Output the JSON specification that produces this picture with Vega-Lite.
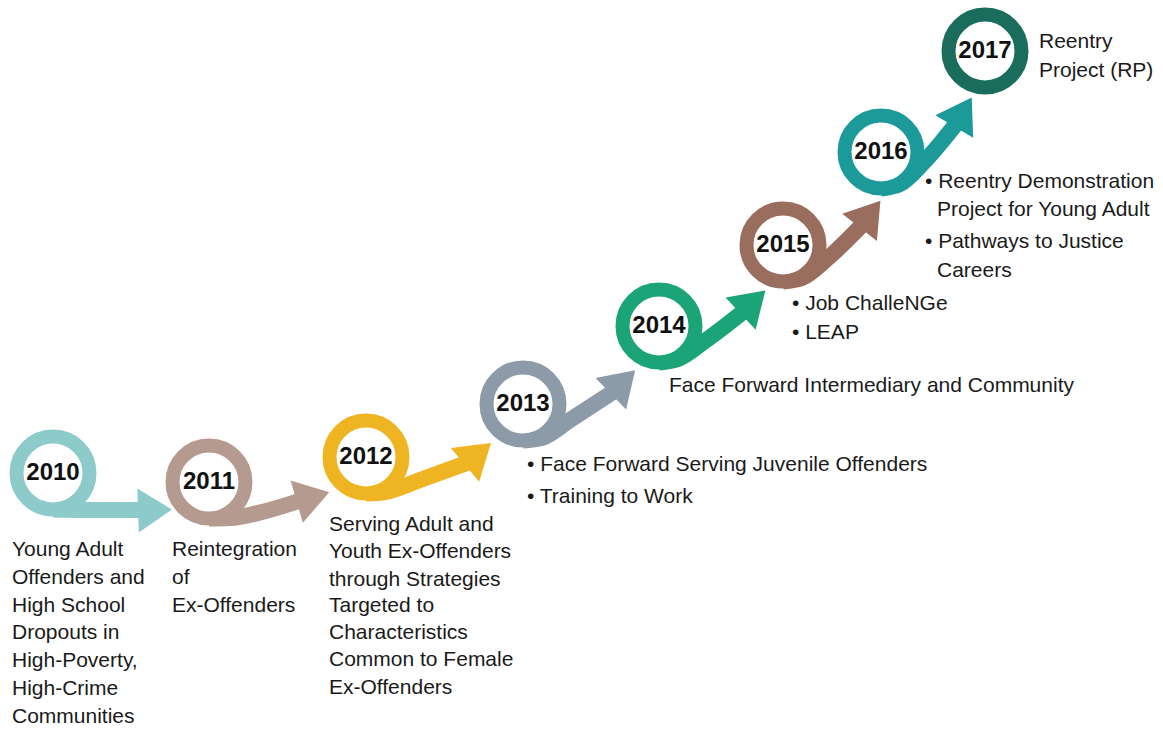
{
  "$schema": "https://vega.github.io/schema/vega-lite/v6.json",
  "width": 1163,
  "height": 731,
  "autosize": "none",
  "padding": 0,
  "background": "white",
  "config": {"view": {"stroke": null}},
  "datasets": {
    "rings": [
      {"year": "2010", "x": 53, "y": 473, "color": "#8dcaca"},
      {"year": "2011", "x": 209, "y": 482, "color": "#b59a8f"},
      {"year": "2012", "x": 366, "y": 457, "color": "#eeb422"},
      {"year": "2013", "x": 523, "y": 404, "color": "#8d9ba8"},
      {"year": "2014", "x": 659, "y": 326, "color": "#1ba477"},
      {"year": "2015", "x": 783, "y": 245, "color": "#9a6e5e"},
      {"year": "2016", "x": 881, "y": 152, "color": "#1b9a99"},
      {"year": "2017", "x": 985, "y": 51, "color": "#1a6d5c"}
    ],
    "shafts": [
      {"arrow": "A1", "o": 1, "x": 53, "y": 509.5, "color": "#8dcaca"},
      {"arrow": "A1", "o": 2, "x": 95, "y": 510, "color": "#8dcaca"},
      {"arrow": "A1", "o": 3, "x": 141, "y": 510, "color": "#8dcaca"},
      {"arrow": "A2", "o": 1, "x": 209, "y": 518.5, "color": "#b59a8f"},
      {"arrow": "A2", "o": 2, "x": 230, "y": 518, "color": "#b59a8f"},
      {"arrow": "A2", "o": 3, "x": 262, "y": 512, "color": "#b59a8f"},
      {"arrow": "A2", "o": 4, "x": 299, "y": 501, "color": "#b59a8f"},
      {"arrow": "A3", "o": 1, "x": 366, "y": 493.5, "color": "#eeb422"},
      {"arrow": "A3", "o": 2, "x": 385, "y": 492, "color": "#eeb422"},
      {"arrow": "A3", "o": 3, "x": 420, "y": 480, "color": "#eeb422"},
      {"arrow": "A3", "o": 4, "x": 467, "y": 463, "color": "#eeb422"},
      {"arrow": "A4", "o": 1, "x": 523, "y": 440.5, "color": "#8d9ba8"},
      {"arrow": "A4", "o": 2, "x": 542, "y": 438, "color": "#8d9ba8"},
      {"arrow": "A4", "o": 3, "x": 570, "y": 420, "color": "#8d9ba8"},
      {"arrow": "A4", "o": 4, "x": 613, "y": 392, "color": "#8d9ba8"},
      {"arrow": "A5", "o": 1, "x": 659, "y": 362.5, "color": "#1ba477"},
      {"arrow": "A5", "o": 2, "x": 678, "y": 359, "color": "#1ba477"},
      {"arrow": "A5", "o": 3, "x": 705, "y": 341, "color": "#1ba477"},
      {"arrow": "A5", "o": 4, "x": 743, "y": 312, "color": "#1ba477"},
      {"arrow": "A6", "o": 1, "x": 783, "y": 281.5, "color": "#9a6e5e"},
      {"arrow": "A6", "o": 2, "x": 802, "y": 278, "color": "#9a6e5e"},
      {"arrow": "A6", "o": 3, "x": 828, "y": 258, "color": "#9a6e5e"},
      {"arrow": "A6", "o": 4, "x": 862, "y": 225, "color": "#9a6e5e"},
      {"arrow": "A7", "o": 1, "x": 881, "y": 188.5, "color": "#1b9a99"},
      {"arrow": "A7", "o": 2, "x": 900, "y": 184, "color": "#1b9a99"},
      {"arrow": "A7", "o": 3, "x": 924, "y": 162, "color": "#1b9a99"},
      {"arrow": "A7", "o": 4, "x": 956, "y": 124, "color": "#1b9a99"}
    ],
    "heads": [
      {"arrow": "A1", "x": 155, "y": 510, "angle": -2, "color": "#8dcaca"},
      {"arrow": "A2", "x": 313, "y": 497, "angle": -16, "color": "#b59a8f"},
      {"arrow": "A3", "x": 478, "y": 454, "angle": -40, "color": "#eeb422"},
      {"arrow": "A4", "x": 623, "y": 382, "angle": -44, "color": "#8d9ba8"},
      {"arrow": "A5", "x": 753, "y": 302, "angle": -43, "color": "#1ba477"},
      {"arrow": "A6", "x": 870, "y": 214, "angle": -52, "color": "#9a6e5e"},
      {"arrow": "A7", "x": 963, "y": 112, "angle": -59, "color": "#1b9a99"}
    ],
    "labels": [
      {"x": 12, "y": 550, "text": "Young Adult"},
      {"x": 12, "y": 578, "text": "Offenders and"},
      {"x": 12, "y": 606, "text": "High School"},
      {"x": 12, "y": 633, "text": "Dropouts in"},
      {"x": 12, "y": 661, "text": "High-Poverty,"},
      {"x": 12, "y": 689, "text": "High-Crime"},
      {"x": 12, "y": 717, "text": "Communities"},
      {"x": 172, "y": 550, "text": "Reintegration"},
      {"x": 172, "y": 578, "text": "of"},
      {"x": 172, "y": 606, "text": "Ex-Offenders"},
      {"x": 329, "y": 525, "text": "Serving Adult and"},
      {"x": 329, "y": 552, "text": "Youth Ex-Offenders"},
      {"x": 329, "y": 580, "text": "through Strategies"},
      {"x": 329, "y": 606, "text": "Targeted to"},
      {"x": 329, "y": 633, "text": "Characteristics"},
      {"x": 329, "y": 660, "text": "Common to Female"},
      {"x": 329, "y": 688, "text": "Ex-Offenders"},
      {"x": 527, "y": 465, "text": "• Face Forward Serving Juvenile Offenders"},
      {"x": 527, "y": 497, "text": "• Training to Work"},
      {"x": 669, "y": 386, "text": "Face Forward Intermediary and Community"},
      {"x": 792, "y": 304, "text": "• Job ChalleNGe"},
      {"x": 792, "y": 333, "text": "• LEAP"},
      {"x": 925, "y": 182, "text": "• Reentry Demonstration"},
      {"x": 937, "y": 210, "text": "Project for Young Adult"},
      {"x": 925, "y": 242, "text": "• Pathways to Justice"},
      {"x": 937, "y": 271, "text": "Careers"},
      {"x": 1039, "y": 42, "text": "Reentry"},
      {"x": 1039, "y": 71, "text": "Project (RP)"}
    ]
  },
  "encoding": {
    "x": {"field": "x", "type": "quantitative", "scale": {"domain": [0, 1163], "nice": false, "zero": false}, "axis": null},
    "y": {"field": "y", "type": "quantitative", "scale": {"domain": [0, 731], "nice": false, "zero": false, "reverse": true}, "axis": null}
  },
  "layer": [
    {
      "data": {"name": "shafts"},
      "mark": {"type": "line", "strokeWidth": 16, "strokeCap": "butt", "interpolate": "monotone"},
      "encoding": {
        "detail": {"field": "arrow"},
        "order": {"field": "o", "type": "quantitative"},
        "stroke": {"field": "color", "type": "nominal", "scale": null}
      }
    },
    {
      "data": {"name": "rings"},
      "mark": {"type": "point", "shape": "circle", "filled": true, "fill": "white", "strokeWidth": 14, "size": 5329, "opacity": 1},
      "encoding": {
        "stroke": {"field": "color", "type": "nominal", "scale": null}
      }
    },
    {
      "data": {"name": "heads"},
      "mark": {"type": "point", "shape": "M-0.77,-1L0.77,0L-0.77,1Z", "filled": true, "size": 1936, "opacity": 1, "strokeWidth": 0},
      "encoding": {
        "fill": {"field": "color", "type": "nominal", "scale": null},
        "angle": {"field": "angle", "type": "quantitative", "scale": null}
      }
    },
    {
      "data": {"name": "rings"},
      "mark": {"type": "text", "font": "Liberation Sans", "fontWeight": "bold", "fontSize": 24, "align": "center", "baseline": "middle", "fill": "#111111"},
      "encoding": {
        "text": {"field": "year"}
      }
    },
    {
      "data": {"name": "labels"},
      "mark": {"type": "text", "font": "Liberation Sans", "fontSize": 21, "align": "left", "baseline": "middle", "fill": "#1a1a1a"},
      "encoding": {
        "text": {"field": "text"}
      }
    }
  ]
}
